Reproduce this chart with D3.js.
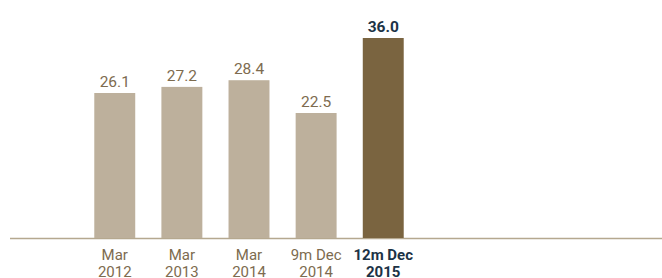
<!DOCTYPE html>
<html><head><meta charset="utf-8">
<script src="https://cdn.jsdelivr.net/npm/d3@7"></script>
<style>body{margin:0;background:#fff}svg{display:block}</style>
</head><body><svg id="c" width="662" height="278"></svg>
<script>
const categories = [["Mar","2012"],["Mar","2013"],["Mar","2014"],["9m Dec","2014"],["12m Dec","2015"]];
const values = [26.1, 27.2, 28.4, 22.5, 36.0];
const highlight = [false,false,false,false,true];
const valueLabels = ["26.1","27.2","28.4","22.5","36.0"];

const svg = d3.select("#c");
const baseY = 238, topY = 38;
const x = d3.scaleBand().domain(d3.range(values.length)).range([77.5, 420.5]).paddingInner(0.39).paddingOuter(0.25);
const y = d3.scaleLinear().domain([0, 36]).range([baseY, topY]);

svg.append("line").attr("x1",10).attr("x2",662).attr("y1",baseY+0.5).attr("y2",baseY+0.5)
  .attr("stroke","#b5a88f").attr("stroke-width",1.5);

svg.selectAll("rect.bar").data(values).join("rect").attr("class","bar")
  .attr("x",(d,i)=>x(i)).attr("width",x.bandwidth())
  .attr("y",d=>y(d)).attr("height",d=>baseY-y(d))
  .attr("fill",(d,i)=>highlight[i]?"#7a6440":"#bdb09c");

svg.selectAll("text.val").data(values).join("text").attr("class","val")
  .attr("x",(d,i)=>x(i)+x.bandwidth()/2).attr("y",d=>y(d)-6)
  .attr("text-anchor","middle")
  .style("font-family","Roboto, sans-serif").style("font-size","15.5px")
  .style("font-weight",(d,i)=>highlight[i]?"700":"400")
  .attr("fill",(d,i)=>highlight[i]?"#1c3346":"#7d6b4f")
  .text((d,i)=>valueLabels[i]);

const cat = svg.selectAll("text.cat").data(categories).join("text").attr("class","cat")
  .attr("text-anchor","middle")
  .style("font-family","Roboto, sans-serif").style("font-size","15px")
  .style("font-weight",(d,i)=>highlight[i]?"700":"400")
  .attr("fill",(d,i)=>highlight[i]?"#1c3346":"#7d6b4f");
cat.each(function(d,i){
  const t=d3.select(this), cx=x(i)+x.bandwidth()/2;
  t.append("tspan").attr("x",cx).attr("y",260).text(d[0]);
  t.append("tspan").attr("x",cx).attr("y",277).text(d[1]);
});
</script></body></html>
